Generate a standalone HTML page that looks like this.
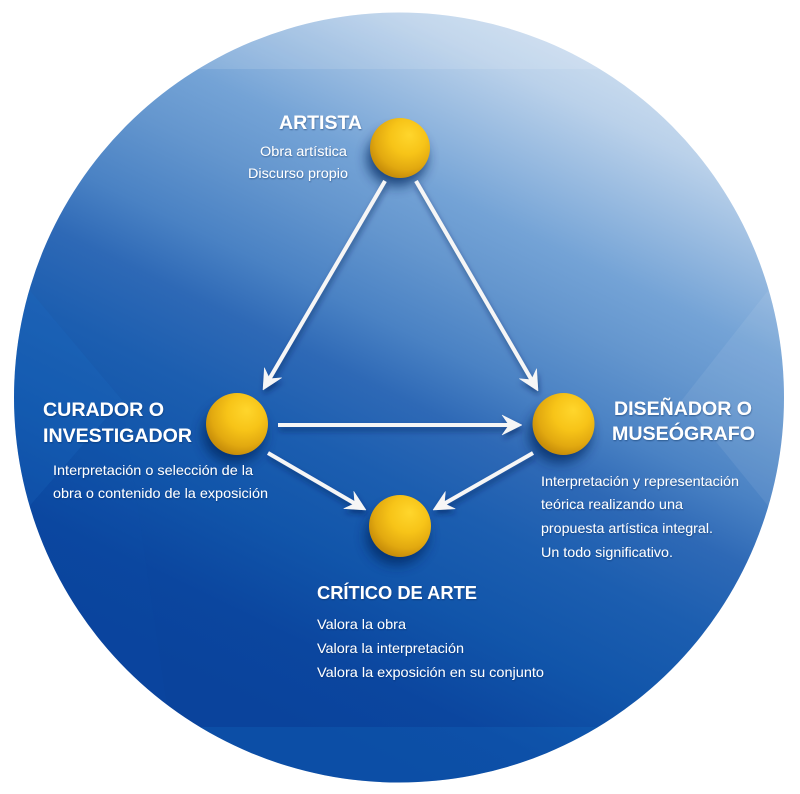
<!DOCTYPE html>
<html><head><meta charset="utf-8">
<style>
html,body{margin:0;padding:0;background:#fff;}
svg{display:block;}
text{font-family:"Liberation Sans",Arial,sans-serif;fill:#fff;}
.h{font-weight:bold;font-size:19.5px;}
.b{font-size:14px;}
</style></head><body>
<svg width="800" height="794" viewBox="0 0 800 794" xmlns="http://www.w3.org/2000/svg">
<defs>
<linearGradient id="bg" gradientUnits="userSpaceOnUse" x1="620" y1="20" x2="280" y2="720">
<stop offset="0" stop-color="#d6e4f2"/>
<stop offset="0.12" stop-color="#bad1ea"/>
<stop offset="0.3" stop-color="#74a3d6"/>
<stop offset="0.38" stop-color="#6496ce"/>
<stop offset="0.48" stop-color="#4a82c4"/>
<stop offset="0.56" stop-color="#2e69b6"/>
<stop offset="0.66" stop-color="#1c5eb0"/>
<stop offset="0.78" stop-color="#1155aa"/>
<stop offset="0.9" stop-color="#0b469f"/>
<stop offset="1" stop-color="#0a439c"/>
</linearGradient>
<radialGradient id="ball" cx="0.6" cy="0.35" r="0.65" fx="0.66" fy="0.28">
<stop offset="0" stop-color="#ffd62c"/>
<stop offset="0.45" stop-color="#f7c418"/>
<stop offset="0.8" stop-color="#e2a910"/>
<stop offset="1" stop-color="#c98f0a"/>
</radialGradient>
<clipPath id="cc"><circle cx="399" cy="397.5" r="385"/></clipPath>
<filter id="sh" x="-30%" y="-30%" width="160%" height="160%">
<feDropShadow dx="1" dy="4" stdDeviation="3" flood-color="#06245a" flood-opacity="0.55"/>
</filter>
<filter id="bs" x="-50%" y="-50%" width="200%" height="200%">
<feGaussianBlur stdDeviation="6"/>
</filter>
<filter id="ts" x="-10%" y="-30%" width="120%" height="160%">
<feDropShadow dx="0.5" dy="1" stdDeviation="0.8" flood-color="#062050" flood-opacity="0.45"/>
</filter>
</defs>

<g clip-path="url(#cc)">
<rect x="0" y="0" width="800" height="794" fill="url(#bg)"/>
<rect x="0" y="0" width="800" height="69" fill="#ffffff" opacity="0.12"/>
<polygon points="800,250 682,400 800,545" fill="#ffffff" opacity="0.07"/>
<polygon points="0,255 122,400 0,540" fill="#1a6cc4" opacity="0.25"/>
<polygon points="0,540 122,400 170,727 0,727" fill="#0d55ad" opacity="0.12"/>
<rect x="0" y="727" width="800" height="70" fill="#1470c2" opacity="0.25"/>
</g>

<!-- ball shadows -->
<g filter="url(#bs)" fill="#05265f" opacity="0.75">
<ellipse cx="397" cy="158" rx="30" ry="28"/>
<ellipse cx="234" cy="434" rx="31" ry="29"/>
<ellipse cx="560" cy="434" rx="31" ry="29"/>
<ellipse cx="397" cy="536" rx="31" ry="29"/>
</g>

<!-- arrows -->
<g filter="url(#sh)" fill="#f6f6f6" stroke="#f6f6f6">
<line x1="385" y1="181" x2="269.5" y2="378.8" stroke-width="4"/>
<polygon points="263,390 264.4,367.7 269.6,378.8 281.7,377.8" stroke-width="0.5"/>
<line x1="416" y1="181" x2="531.5" y2="379.8" stroke-width="4"/>
<polygon points="538,391 536.6,368.7 531.5,379.8 519.3,378.7" stroke-width="0.5"/>
<line x1="278" y1="425" x2="509" y2="425" stroke-width="4"/>
<polygon points="522,425 502,415 509,425 502,435" stroke-width="0.5"/>
<line x1="268" y1="453" x2="354.8" y2="503.5" stroke-width="4"/>
<polygon points="366,510 353.8,491.3 354.8,503.5 343.7,508.6" stroke-width="0.5"/>
<line x1="533" y1="453" x2="444.3" y2="503.6" stroke-width="4"/>
<polygon points="433,510 445.4,491.4 444.3,503.6 455.3,508.8" stroke-width="0.5"/>
</g>

<!-- balls -->
<circle cx="400" cy="148" r="30" fill="url(#ball)"/>
<circle cx="237" cy="424" r="31" fill="url(#ball)"/>
<circle cx="563.5" cy="424" r="31" fill="url(#ball)"/>
<circle cx="400" cy="526" r="31" fill="url(#ball)"/>

<g filter="url(#ts)">
<text class="h" x="279" y="129" textLength="83" lengthAdjust="spacingAndGlyphs">ARTISTA</text>
<text class="b" x="260" y="156" textLength="87" lengthAdjust="spacingAndGlyphs" style="font-size:13.5px">Obra artística</text>
<text class="b" x="248" y="178" textLength="100" lengthAdjust="spacingAndGlyphs" style="font-size:13.5px">Discurso propio</text>

<text class="h" x="43" y="416" textLength="121" lengthAdjust="spacingAndGlyphs">CURADOR O</text>
<text class="h" x="43" y="442" textLength="149" lengthAdjust="spacingAndGlyphs">INVESTIGADOR</text>
<text class="b" x="53" y="475" textLength="200" lengthAdjust="spacingAndGlyphs">Interpretación o selección de la</text>
<text class="b" x="53" y="498" textLength="215" lengthAdjust="spacingAndGlyphs">obra o contenido de la exposición</text>

<text class="h" x="614" y="415" textLength="138" lengthAdjust="spacingAndGlyphs">DISEÑADOR O</text>
<text class="h" x="612" y="440" textLength="143" lengthAdjust="spacingAndGlyphs">MUSEÓGRAFO</text>
<text class="b" x="541" y="486" textLength="198" lengthAdjust="spacingAndGlyphs">Interpretación y representación</text>
<text class="b" x="541" y="509" textLength="142" lengthAdjust="spacingAndGlyphs">teórica realizando una</text>
<text class="b" x="541" y="533" textLength="172" lengthAdjust="spacingAndGlyphs">propuesta artística integral.</text>
<text class="b" x="541" y="557" textLength="132" lengthAdjust="spacingAndGlyphs">Un todo significativo.</text>

<text class="h" x="317" y="599" textLength="160" lengthAdjust="spacingAndGlyphs" style="font-size:18.5px">CRÍTICO DE ARTE</text>
<text class="b" x="317" y="629" textLength="89" lengthAdjust="spacingAndGlyphs">Valora la obra</text>
<text class="b" x="317" y="653" textLength="147" lengthAdjust="spacingAndGlyphs">Valora la interpretación</text>
<text class="b" x="317" y="677" textLength="227" lengthAdjust="spacingAndGlyphs">Valora la exposición en su conjunto</text>
</g>
</svg>
</body></html>
